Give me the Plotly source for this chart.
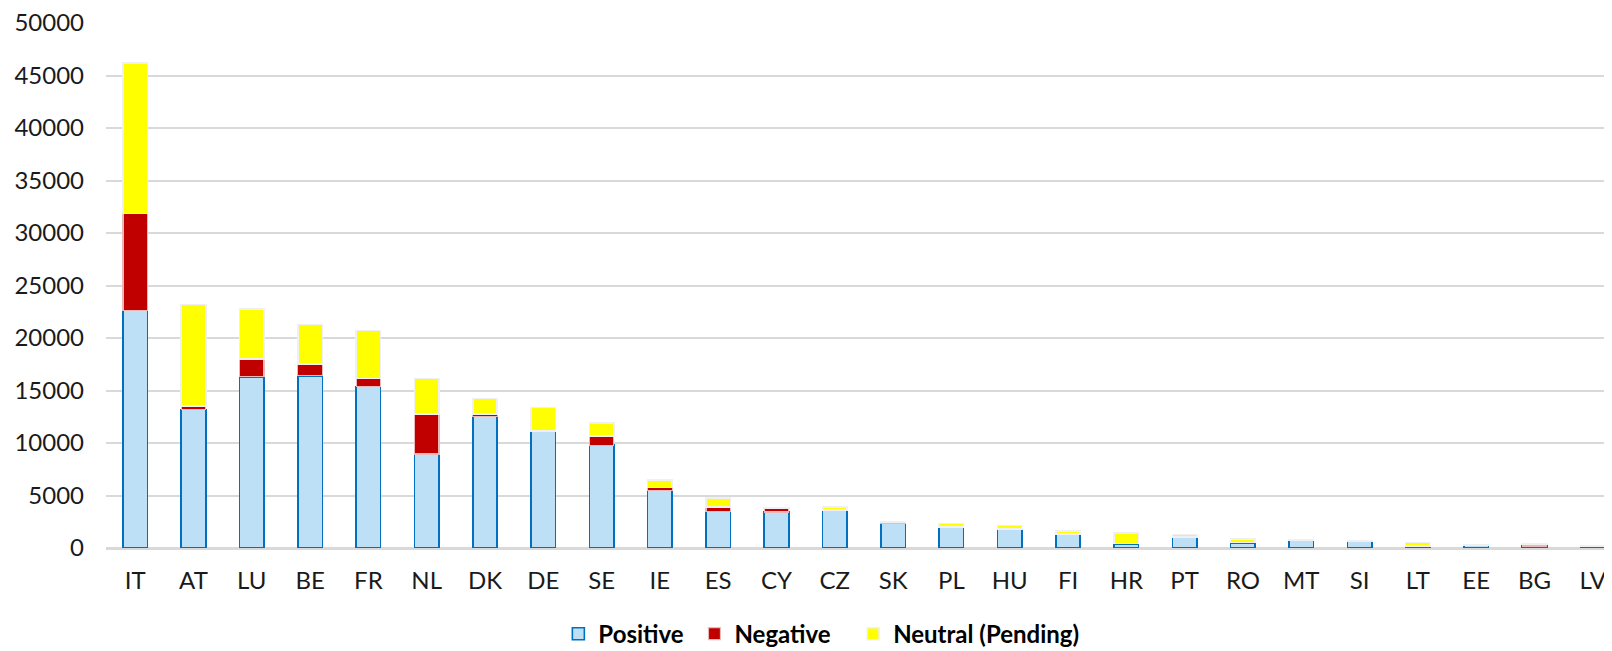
import plotly.graph_objects as go

categories = ["IT", "AT", "LU", "BE", "FR", "NL", "DK", "DE", "SE", "IE", "ES", "CY", "CZ",
              "SK", "PL", "HU", "FI", "HR", "PT", "RO", "MT", "SI", "LT", "EE", "BG", "LV"]
positive = [22640, 13200, 16300, 16400, 15400, 8950, 12550, 11100, 9800, 5500, 3500, 3430, 3600,
            2380, 2000, 1780, 1300, 400, 1000, 500, 700, 620, 150, 250, 200, 150]
negative = [9210, 300, 1700, 1150, 750, 3800, 200, 50, 850, 250, 400, 380, 30,
            60, 20, 40, 30, 30, 20, 30, 60, 50, 20, 20, 150, 20]
neutral = [14340, 9700, 4750, 3750, 4550, 3400, 1500, 2250, 1250, 700, 850, 50, 270,
           40, 300, 340, 300, 1000, 270, 300, 40, 30, 350, 60, 60, 60]
y_ticks = [0, 5000, 10000, 15000, 20000, 25000, 30000, 35000, 40000, 45000, 50000]
series_names = ["Positive", "Negative", "Neutral (Pending)"]

FONT = "Lato"
BAR_W = 0.42
NB = "\u00a0"

fig = go.Figure()
fig.add_trace(go.Bar(name=series_names[0] + NB, x=categories, y=positive, width=BAR_W,
                     marker=dict(color="#BDE0F7", line=dict(color="#0070C0", width=1.6))))
fig.add_trace(go.Bar(name=series_names[1] + NB * 3, x=categories, y=negative, width=BAR_W,
                     marker=dict(color="#C00000", line=dict(color="#EBB8B8", width=1.2))))
fig.add_trace(go.Bar(name=series_names[2], x=categories, y=neutral, width=BAR_W,
                     marker=dict(color="#FFFF00", line=dict(color="#F0F0F0", width=1.6))))

# page body has an 8px default margin, so the figure is 8px smaller on each axis
fig.update_layout(
    width=1604, height=643,
    barmode="stack",
    plot_bgcolor="white", paper_bgcolor="white",
    margin=dict(l=98, r=0, t=15, b=103, autoexpand=False),
    font=dict(family=FONT, size=24, color="#1a1a1a"),
    showlegend=True,
    legend=dict(orientation="h", x=0.475, xanchor="center", y=-0.164, yanchor="middle",
                font=dict(family=FONT, size=24, color="#000000", weight="bold"),
                traceorder="normal", itemwidth=30),
    bargap=0.58,
)
fig.update_xaxes(type="category", range=[-0.5, 25.33], showgrid=False, automargin=False,
                 showline=True, linecolor="#D9D9D9", linewidth=1.5,
                 ticks="", ticklabelstandoff=10, ticklabeloverflow="allow",
                 tickfont=dict(family=FONT, size=24, color="#1a1a1a"))
fig.update_yaxes(range=[0, 50000], tickvals=y_ticks, ticktext=[str(v) for v in y_ticks],
                 automargin=False,
                 showgrid=True, gridcolor="#D9D9D9", gridwidth=1.5,
                 zeroline=True, zerolinecolor="#D9D9D9", zerolinewidth=1.5,
                 showline=False, ticks="", ticklabelstandoff=21, ticklabeloverflow="allow",
                 tickfont=dict(family=FONT, size=24, color="#1a1a1a"))

fig.write_html("out.html")
